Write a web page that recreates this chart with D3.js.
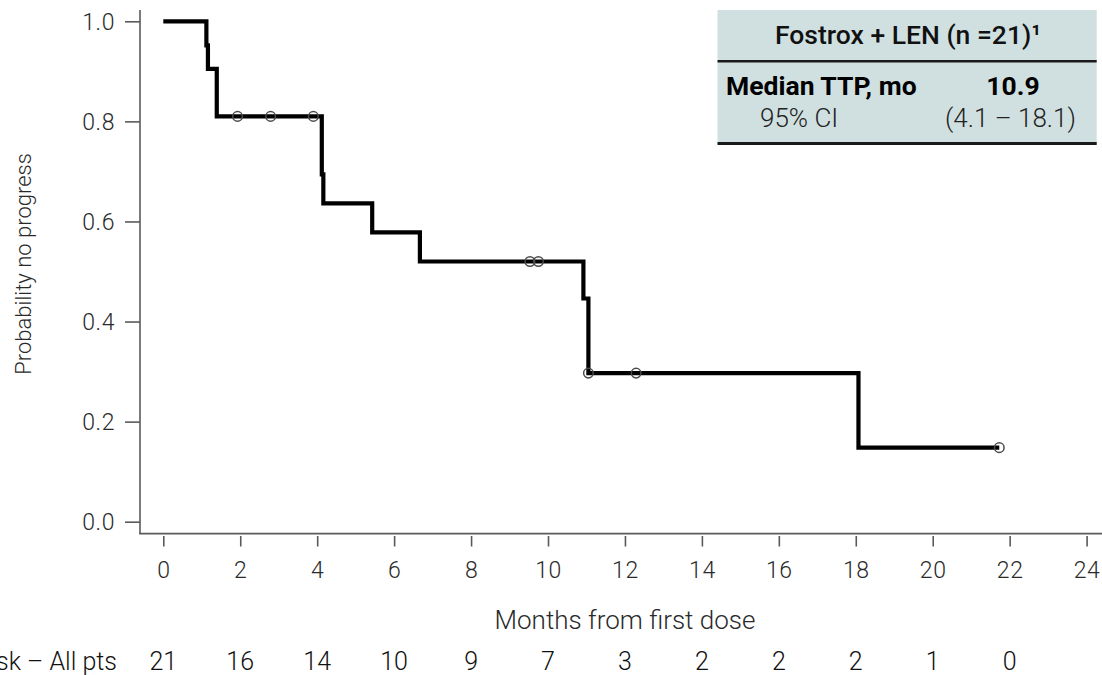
<!DOCTYPE html>
<html>
<head>
<meta charset="utf-8">
<script src="https://cdn.jsdelivr.net/npm/d3@7"></script>
<style>
  html, body { margin: 0; padding: 0; background: #fff; }
  svg { display: block; }
  text { font-family: Roboto, "Noto Sans", sans-serif; }
</style>
</head>
<body>
<svg id="chart" width="1102" height="675"></svg>
<script>
// ---- Data ----
const kmTime = [0, 1.12, 1.16, 1.39, 4.12, 4.16, 5.43, 6.67, 10.92, 11.05, 18.07, 21.73];
const kmSurv = [1.0, 0.952, 0.905, 0.810, 0.694, 0.636, 0.578, 0.520, 0.446, 0.297, 0.148, 0.148];
const censorTime = [1.93, 2.79, 3.90, 9.53, 9.75, 11.05, 12.29, 21.73];
const censorSurv = [0.810, 0.810, 0.810, 0.520, 0.520, 0.297, 0.297, 0.148];
const xTicks = [0, 2, 4, 6, 8, 10, 12, 14, 16, 18, 20, 22, 24];
const yTicks = [0.0, 0.2, 0.4, 0.6, 0.8, 1.0];
const atRiskTime = [0, 2, 4, 6, 8, 10, 12, 14, 16, 18, 20, 22];
const atRiskCount = [21, 16, 14, 10, 9, 7, 3, 2, 2, 2, 1, 0];
const atRiskLabel = "At risk \u2013 All pts";
const xTitle = "Months from first dose";
const yTitle = "Probability no progress";
const tableHeader = "Fostrox + LEN (n =21)\u00b9";
const tableRow1 = ["Median TTP, mo", "10.9"];
const tableRow2 = ["95% CI", "(4.1 \u2013 18.1)"];

// ---- Layout ----
const svg = d3.select("#chart");
const x = d3.scaleLinear().domain([0, 24]).range([163.3, 1086.6]);
const y = d3.scaleLinear().domain([0, 1]).range([521.7, 21.3]);
const axisColor = "#5a5a5a";
const textColor = "#2a2a2a";

// Y axis
const yAxisG = svg.append("g").attr("transform", "translate(140,0)");
yAxisG.call(d3.axisLeft(y).tickValues(yTicks).tickFormat(d3.format(".1f")).tickSize(15).tickPadding(10));
yAxisG.select(".domain").remove();
yAxisG.append("line").attr("x1", 0).attr("x2", 0).attr("y1", 10).attr("y2", 534)
  .attr("stroke", axisColor).attr("stroke-width", 1.6);
yAxisG.selectAll(".tick line").attr("stroke", axisColor).attr("stroke-width", 1.6);
yAxisG.selectAll(".tick text").attr("fill", textColor).attr("font-size", 23).attr("font-weight", 300)
  .attr("letter-spacing", 0.6).attr("dy", "0.34em");

// X axis
const xAxisG = svg.append("g").attr("transform", "translate(0,534.5)");
xAxisG.call(d3.axisBottom(x).tickValues(xTicks).tickFormat(d3.format("d")).tickSize(12).tickPadding(15));
xAxisG.select(".domain").remove();
xAxisG.append("line").attr("x1", 139.2).attr("x2", 1102).attr("y1", -0.8).attr("y2", -0.8)
  .attr("stroke", axisColor).attr("stroke-width", 1.8);
xAxisG.selectAll(".tick line").attr("stroke", axisColor).attr("stroke-width", 1.6)
  .attr("y1", 1.5);
xAxisG.selectAll(".tick text").attr("fill", textColor).attr("font-size", 23).attr("font-weight", 300)
  .attr("letter-spacing", 0.6);

// Axis titles
svg.append("text").attr("x", 625).attr("y", 629).attr("text-anchor", "middle")
  .attr("font-size", 26).attr("font-weight", 300).attr("fill", textColor).text(xTitle);
svg.append("text").attr("transform", "translate(31,264) rotate(-90)").attr("text-anchor", "middle")
  .attr("font-size", 22).attr("font-weight", 300).attr("fill", textColor).text(yTitle);

// KM curve
const kmData = kmTime.map((t, i) => ({ t: t, s: kmSurv[i] }));
const line = d3.line().x(d => x(d.t)).y(d => y(d.s)).curve(d3.curveStepAfter);
svg.append("path").datum(kmData).attr("d", line)
  .attr("fill", "none").attr("stroke", "#000").attr("stroke-width", 4.2)
  .attr("stroke-linejoin", "miter").attr("stroke-linecap", "butt");

// Censor marks
const censorData = censorTime.map((t, i) => ({ t: t, s: censorSurv[i] }));
svg.append("g").selectAll("circle").data(censorData).join("circle")
  .attr("cx", d => x(d.t)).attr("cy", d => y(d.s)).attr("r", 4.8)
  .attr("fill", "none").attr("stroke", "#4a4a4a").attr("stroke-width", 1.5);

// At-risk row
svg.append("text").attr("x", 117).attr("y", 670).attr("text-anchor", "end")
  .attr("font-size", 25).attr("font-weight", 300).attr("fill", "#111").text(atRiskLabel);
svg.append("g").selectAll("text").data(atRiskTime).join("text")
  .attr("x", d => x(d)).attr("y", 670).attr("text-anchor", "middle")
  .attr("font-size", 25).attr("font-weight", 300).attr("fill", "#111")
  .text((d, i) => atRiskCount[i]);

// Table
const tbl = svg.append("g");
tbl.append("rect").attr("x", 717.5).attr("y", 10).attr("width", 379.2).attr("height", 134)
  .attr("fill", "#d0e0e1");
tbl.append("line").attr("x1", 717.5).attr("x2", 1096.7).attr("y1", 61.3).attr("y2", 61.3)
  .attr("stroke", "#1a1a1a").attr("stroke-width", 2.6);
tbl.append("line").attr("x1", 717.5).attr("x2", 1096.7).attr("y1", 143.5).attr("y2", 143.5)
  .attr("stroke", "#1a1a1a").attr("stroke-width", 3.2);
tbl.append("text").attr("x", 908).attr("y", 44).attr("text-anchor", "middle")
  .attr("font-size", 26.5).attr("font-weight", 500).attr("fill", "#111").text(tableHeader);
tbl.append("text").attr("x", 726).attr("y", 95).attr("text-anchor", "start")
  .attr("font-size", 26.5).attr("font-weight", 700).attr("fill", "#000").text(tableRow1[0]);
tbl.append("text").attr("x", 1013).attr("y", 95).attr("text-anchor", "middle")
  .attr("font-size", 26.5).attr("font-weight", 700).attr("fill", "#000").text(tableRow1[1]);
tbl.append("text").attr("x", 760).attr("y", 127).attr("text-anchor", "start")
  .attr("font-size", 26).attr("font-weight", 300).attr("fill", "#222").text(tableRow2[0]);
tbl.append("text").attr("x", 1010.5).attr("y", 127).attr("text-anchor", "middle")
  .attr("font-size", 26).attr("font-weight", 300).attr("fill", "#222").text(tableRow2[1]);
</script>
</body>
</html>
